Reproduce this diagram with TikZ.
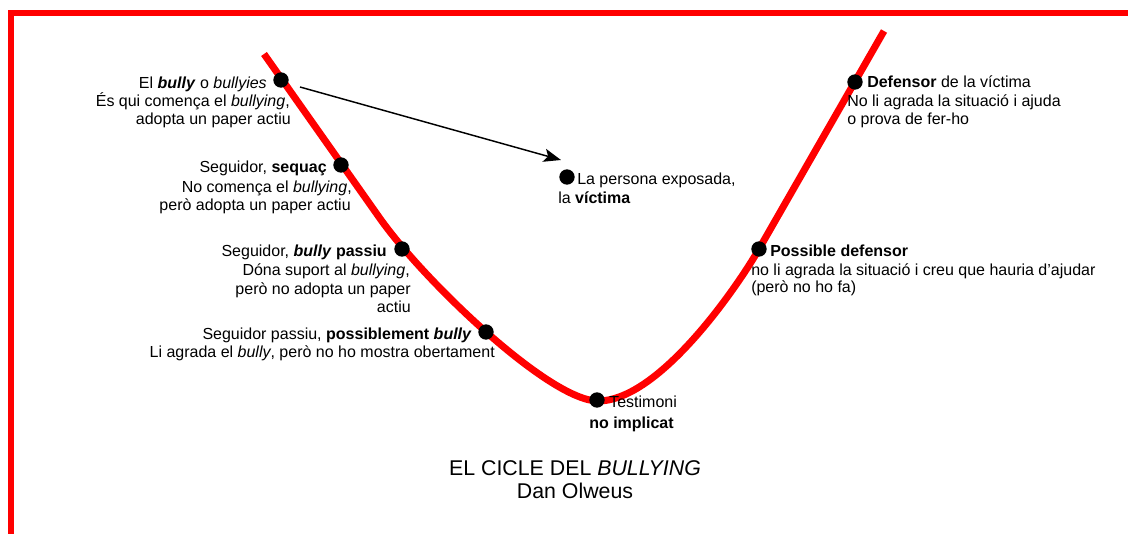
\documentclass[tikz,border=0pt]{standalone}
\usepackage{fontspec}
\setmainfont{Liberation Sans}
\usetikzlibrary{arrows.meta}
\begin{document}
\begin{tikzpicture}[x=0.75pt,y=-0.75pt,
  lab/.style={inner sep=0pt, font=\fontsize{12}{13.5}\selectfont},
  dot/.style={circle, fill=black, inner sep=0pt, minimum size=11.5pt},
  ttl/.style={inner sep=0pt, font=\fontsize{16}{18}\selectfont},
  frameline/.style={draw=red, line width=4.5pt},
  cycleline/.style={draw=red, line width=5.25pt},
  arr/.style={draw=black, line width=1.1pt, -{Stealth[length=13pt,width=10pt,inset=3pt]}}]
\useasboundingbox (0,0) rectangle (1128,534);
\begin{scope}
\clip (0,0) rectangle (1128,534);
\draw[frameline] (11,560) -- (11,13) -- (1150,13);
\end{scope}
% the curve
\draw[cycleline] (264,54) -- (380,218.5)
  .. controls (425,282) and (550,401) .. (598,401)
  .. controls (660,401) and (739,284) .. (759,249) -- (884,31);
% dots
\node[dot] (d1) at (281,80) {};
\node[dot] (d2) at (341,165) {};
\node[dot] (d3) at (402,249) {};
\node[dot] (d4) at (486,332) {};
\node[dot] (d5) at (597,400) {};
\node[dot] (dv) at (567,177) {};
\node[dot] (d7) at (759,249) {};
\node[dot] (d8) at (855,82) {};
% arrow
\coordinate (a1) at (300,87);
\coordinate (a2) at (561,160);
\draw[arr] (a1) -- (a2);
% group 1
\node[lab, anchor=base east] (g1a) at (267,89) {El \textbf{\textit{bully}} o \textit{bullyies}};
\node[lab, anchor=base east] (g1b) at (290,107) {És qui comença el \textit{bullying},};
\node[lab, anchor=base east] (g1c) at (291,125) {adopta un paper actiu};
% group 2
\node[lab, anchor=base east] (g2a) at (327,173) {Seguidor, \textbf{sequaç}};
\node[lab, anchor=base east] (g2b) at (352,193) {No comença el \textit{bullying},};
\node[lab, anchor=base east] (g2c) at (351,211) {però adopta un paper actiu};
% group 3
\node[lab, anchor=base east] (g3a) at (387,257) {Seguidor, \textbf{\textit{bully} passiu}};
\node[lab, anchor=base east] (g3b) at (410,276) {Dóna suport al \textit{bullying},};
\node[lab, anchor=base east] (g3c) at (411,295) {però no adopta un paper};
\node[lab, anchor=base east] (g3d) at (411,313) {actiu};
% group 4
\node[lab, anchor=base east] (g4a) at (472,340) {Seguidor passiu, \textbf{possiblement \textit{bully}}};
\node[lab, anchor=base east] (g4b) at (495,358) {Li agrada el \textit{bully}, però no ho mostra obertament};
% victim
\node[lab, anchor=base west] (va) at (577,185) {La persona exposada,};
\node[lab, anchor=base west] (vb) at (558,204) {la \textbf{víctima}};
% possible defender
\node[lab, anchor=base west] (pa) at (770,257) {\textbf{Possible defensor}};
\node[lab, anchor=base west] (pb) at (751,276) {no li agrada la situació i creu que hauria d'ajudar};
\node[lab, anchor=base west] (pc) at (751,293) {(però no ho fa)};
% defender
\node[lab, anchor=base west] (fa) at (867,88) {\textbf{Defensor} de la víctima};
\node[lab, anchor=base west] (fb) at (847,107) {No li agrada la situació i ajuda};
\node[lab, anchor=base west] (fc) at (847,125) {o prova de fer-ho};
% witness
\node[lab, anchor=base west] (ta) at (609,407) {Testimoni};
\node[lab, anchor=base west] (tb) at (589,428) {\textbf{no implicat}};
% title
\node[ttl, anchor=base] (title) at (575,475) {EL CICLE DEL \textit{BULLYING}};
\node[ttl, anchor=base] (author) at (575,498) {Dan Olweus};
\end{tikzpicture}
\end{document}
